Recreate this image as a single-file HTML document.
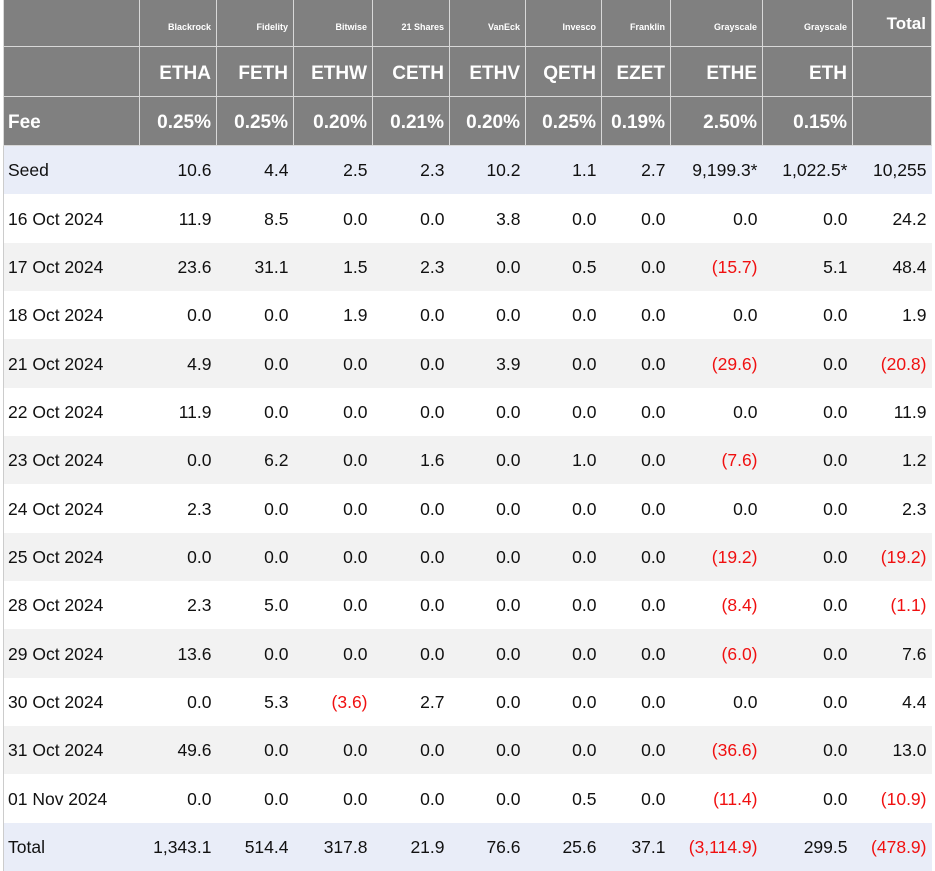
<!DOCTYPE html>
<html><head><style>
html,body{margin:0;padding:0;background:#fff;width:935px;height:871px;overflow:hidden}
table{position:absolute;left:3px;top:0;border-collapse:collapse;table-layout:fixed;font-family:"Liberation Sans",sans-serif;border-left:1px solid #ccc}
td{padding:0 5px;text-align:right;font-size:17.5px;color:#111;white-space:nowrap;overflow:hidden}
td:first-child{text-align:left;padding-left:4px}
tr.h td{background:#808080;color:#fff;font-weight:bold;border:1px solid #d8d8d8;border-top:none;padding-top:0;padding-bottom:0}
tr.h1 td{height:46px;font-size:9px;vertical-align:top;line-height:12px}
tr.h1 td .s{margin-top:21px}
tr.h1 td.tot{font-size:17px;vertical-align:top;line-height:20px;padding-top:0}
tr.h2 td{height:45px;font-size:19px;line-height:20px;padding-top:4px}
tr.h3 td{height:44px;font-size:19px;line-height:20px;padding-top:4px}
tr.b td{height:48.35px;line-height:20px;padding-top:0;padding-bottom:0}
tr.blue td{background:#e9edf8}
tr.g td{background:#f2f2f2}
.r{color:#f01010}
</style></head><body>
<table>
<colgroup><col style="width:136px"><col style="width:77px"><col style="width:77px"><col style="width:79px"><col style="width:77px"><col style="width:76px"><col style="width:76px"><col style="width:69px"><col style="width:92px"><col style="width:90px"><col style="width:79px"></colgroup>
<tr class="h h1"><td></td><td><div class="s">Blackrock</div></td><td><div class="s">Fidelity</div></td><td><div class="s">Bitwise</div></td><td><div class="s">21 Shares</div></td><td><div class="s">VanEck</div></td><td><div class="s">Invesco</div></td><td><div class="s">Franklin</div></td><td><div class="s">Grayscale</div></td><td><div class="s">Grayscale</div></td><td class="tot"><div style="margin-top:14px">Total</div></td></tr>
<tr class="h h2"><td></td><td>ETHA</td><td>FETH</td><td>ETHW</td><td>CETH</td><td>ETHV</td><td>QETH</td><td>EZET</td><td>ETHE</td><td>ETH</td><td></td></tr>
<tr class="h h3"><td>Fee</td><td>0.25%</td><td>0.25%</td><td>0.20%</td><td>0.21%</td><td>0.20%</td><td>0.25%</td><td>0.19%</td><td>2.50%</td><td>0.15%</td><td></td></tr>
<tr class="b blue"><td>Seed</td><td>10.6</td><td>4.4</td><td>2.5</td><td>2.3</td><td>10.2</td><td>1.1</td><td>2.7</td><td>9,199.3*</td><td>1,022.5*</td><td>10,255</td></tr>
<tr class="b"><td>16 Oct 2024</td><td>11.9</td><td>8.5</td><td>0.0</td><td>0.0</td><td>3.8</td><td>0.0</td><td>0.0</td><td>0.0</td><td>0.0</td><td>24.2</td></tr>
<tr class="b g"><td>17 Oct 2024</td><td>23.6</td><td>31.1</td><td>1.5</td><td>2.3</td><td>0.0</td><td>0.5</td><td>0.0</td><td class="r">(15.7)</td><td>5.1</td><td>48.4</td></tr>
<tr class="b"><td>18 Oct 2024</td><td>0.0</td><td>0.0</td><td>1.9</td><td>0.0</td><td>0.0</td><td>0.0</td><td>0.0</td><td>0.0</td><td>0.0</td><td>1.9</td></tr>
<tr class="b g"><td>21 Oct 2024</td><td>4.9</td><td>0.0</td><td>0.0</td><td>0.0</td><td>3.9</td><td>0.0</td><td>0.0</td><td class="r">(29.6)</td><td>0.0</td><td class="r">(20.8)</td></tr>
<tr class="b"><td>22 Oct 2024</td><td>11.9</td><td>0.0</td><td>0.0</td><td>0.0</td><td>0.0</td><td>0.0</td><td>0.0</td><td>0.0</td><td>0.0</td><td>11.9</td></tr>
<tr class="b g"><td>23 Oct 2024</td><td>0.0</td><td>6.2</td><td>0.0</td><td>1.6</td><td>0.0</td><td>1.0</td><td>0.0</td><td class="r">(7.6)</td><td>0.0</td><td>1.2</td></tr>
<tr class="b"><td>24 Oct 2024</td><td>2.3</td><td>0.0</td><td>0.0</td><td>0.0</td><td>0.0</td><td>0.0</td><td>0.0</td><td>0.0</td><td>0.0</td><td>2.3</td></tr>
<tr class="b g"><td>25 Oct 2024</td><td>0.0</td><td>0.0</td><td>0.0</td><td>0.0</td><td>0.0</td><td>0.0</td><td>0.0</td><td class="r">(19.2)</td><td>0.0</td><td class="r">(19.2)</td></tr>
<tr class="b"><td>28 Oct 2024</td><td>2.3</td><td>5.0</td><td>0.0</td><td>0.0</td><td>0.0</td><td>0.0</td><td>0.0</td><td class="r">(8.4)</td><td>0.0</td><td class="r">(1.1)</td></tr>
<tr class="b g"><td>29 Oct 2024</td><td>13.6</td><td>0.0</td><td>0.0</td><td>0.0</td><td>0.0</td><td>0.0</td><td>0.0</td><td class="r">(6.0)</td><td>0.0</td><td>7.6</td></tr>
<tr class="b"><td>30 Oct 2024</td><td>0.0</td><td>5.3</td><td class="r">(3.6)</td><td>2.7</td><td>0.0</td><td>0.0</td><td>0.0</td><td>0.0</td><td>0.0</td><td>4.4</td></tr>
<tr class="b g"><td>31 Oct 2024</td><td>49.6</td><td>0.0</td><td>0.0</td><td>0.0</td><td>0.0</td><td>0.0</td><td>0.0</td><td class="r">(36.6)</td><td>0.0</td><td>13.0</td></tr>
<tr class="b"><td>01 Nov 2024</td><td>0.0</td><td>0.0</td><td>0.0</td><td>0.0</td><td>0.0</td><td>0.5</td><td>0.0</td><td class="r">(11.4)</td><td>0.0</td><td class="r">(10.9)</td></tr>
<tr class="b blue"><td>Total</td><td>1,343.1</td><td>514.4</td><td>317.8</td><td>21.9</td><td>76.6</td><td>25.6</td><td>37.1</td><td class="r">(3,114.9)</td><td>299.5</td><td class="r">(478.9)</td></tr>
</table>
</body></html>
